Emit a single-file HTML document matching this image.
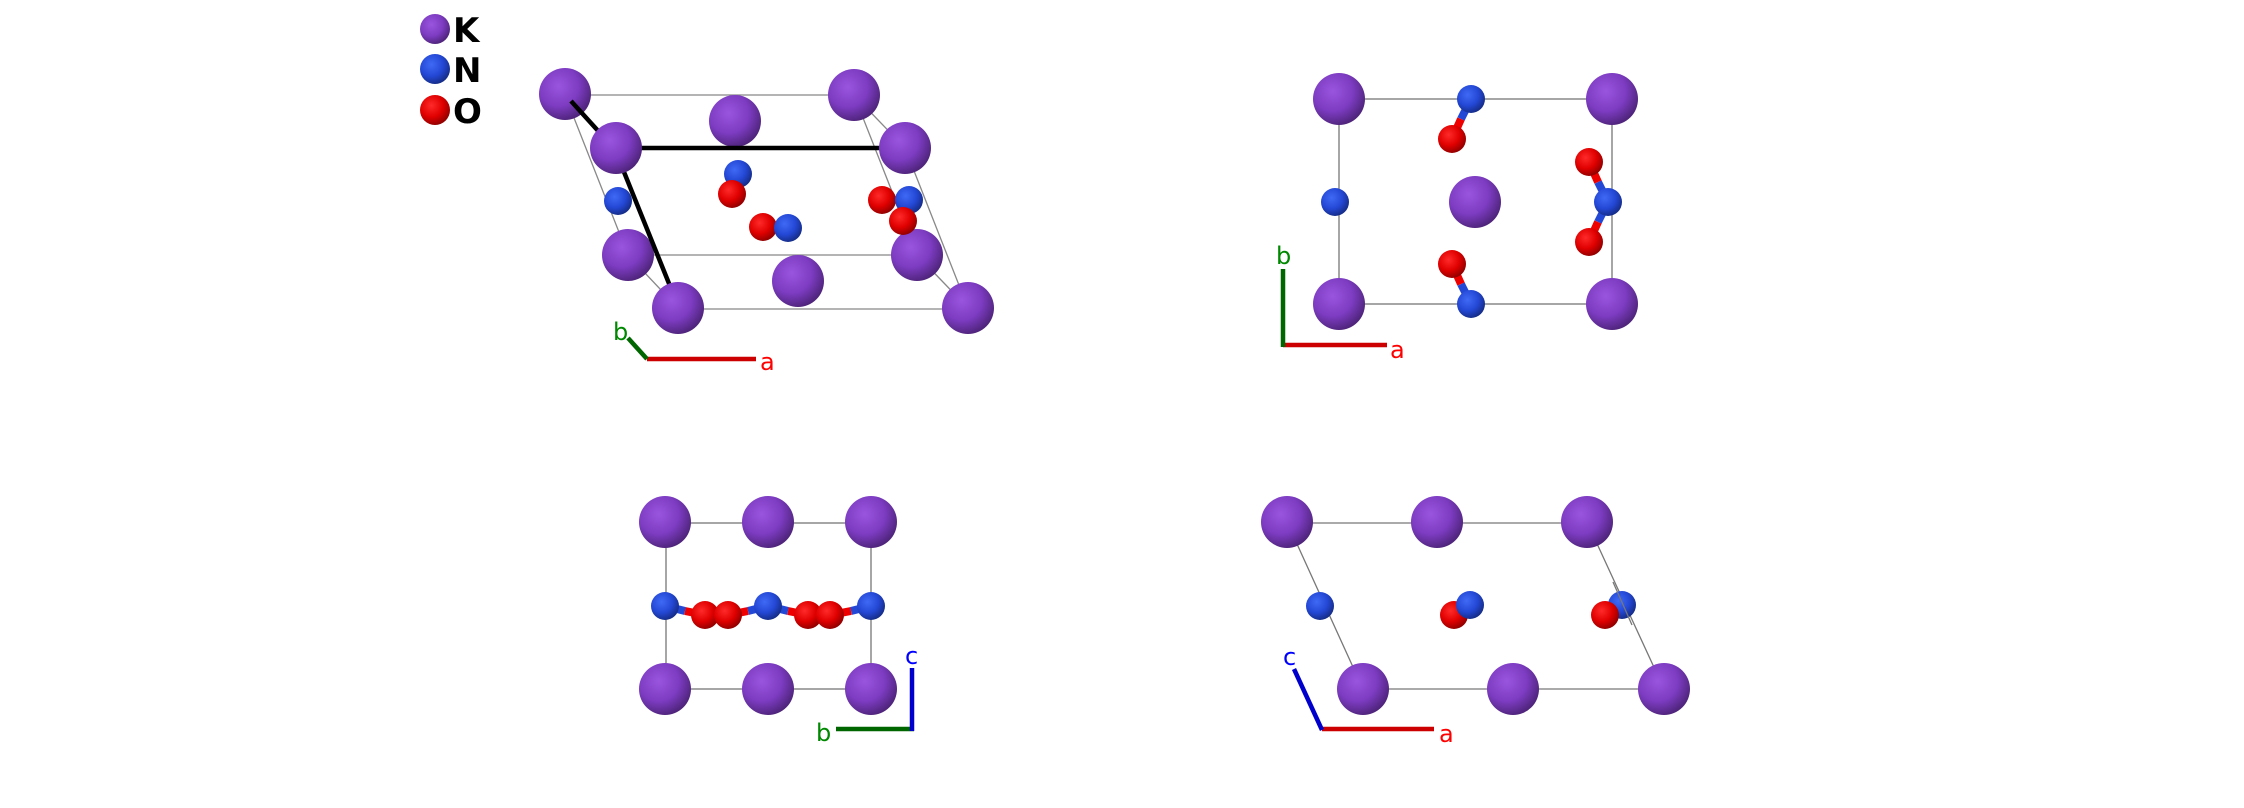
<!DOCTYPE html>
<html><head><meta charset="utf-8"><style>html,body{margin:0;padding:0;background:#fff;}svg{display:block}</style></head>
<body>
<svg width="2244" height="808" viewBox="0 0 2244 808" xmlns="http://www.w3.org/2000/svg">
<defs>
<radialGradient id="gK" cx="0.38" cy="0.35" r="0.7">
<stop offset="0" stop-color="#9a55de"/><stop offset="0.55" stop-color="#7d3cc2"/><stop offset="1" stop-color="#4b2275"/></radialGradient>
<radialGradient id="gN" cx="0.38" cy="0.35" r="0.7">
<stop offset="0" stop-color="#3f6af5"/><stop offset="0.55" stop-color="#2448d6"/><stop offset="1" stop-color="#142a80"/></radialGradient>
<radialGradient id="gO" cx="0.38" cy="0.35" r="0.7">
<stop offset="0" stop-color="#ff2a2a"/><stop offset="0.55" stop-color="#e00000"/><stop offset="1" stop-color="#8a0000"/></radialGradient>
</defs>
<g font-family="DejaVu Sans, Liberation Sans, sans-serif">
<!-- legend -->
<circle cx="435" cy="29" r="15" fill="url(#gK)"/>
<circle cx="435" cy="69" r="15" fill="url(#gN)"/>
<circle cx="435" cy="110" r="15" fill="url(#gO)"/>
<g font-weight="bold" font-size="34" fill="#000">
<text x="453" y="42">K</text><text x="453" y="82">N</text><text x="453" y="123">O</text></g>

<!-- panel 1 -->
<g stroke="#888" stroke-width="1.3" fill="none">
<line x1="565" y1="95" x2="854" y2="95"/>
<line x1="628" y1="255" x2="917" y2="255"/>
<line x1="678" y1="309" x2="968" y2="309"/>
<line x1="565" y1="95" x2="628" y2="255"/>
<line x1="628" y1="255" x2="678" y2="308"/>
<line x1="854" y1="95" x2="917" y2="255"/>
<line x1="854" y1="95" x2="905" y2="148"/>
<line x1="905" y1="148" x2="968" y2="308"/>
<line x1="917" y1="255" x2="968" y2="308"/>
</g>
<circle cx="565" cy="94" r="26" fill="url(#gK)"/>
<circle cx="854" cy="95" r="26" fill="url(#gK)"/>
<circle cx="735" cy="121" r="26" fill="url(#gK)"/>
<circle cx="628" cy="255" r="26" fill="url(#gK)"/>
<circle cx="917" cy="255" r="26" fill="url(#gK)"/>
<circle cx="618" cy="201" r="14" fill="url(#gN)"/>
<circle cx="738" cy="174" r="14" fill="url(#gN)"/>
<circle cx="732" cy="194" r="14" fill="url(#gO)"/>
<line x1="763" y1="227" x2="788" y2="228" stroke="#2448d6" stroke-width="8"/>
<circle cx="763" cy="227" r="14" fill="url(#gO)"/>
<circle cx="788" cy="228" r="14" fill="url(#gN)"/>
<circle cx="882" cy="200" r="14" fill="url(#gO)"/>
<circle cx="909" cy="200" r="14" fill="url(#gN)"/>
<circle cx="903" cy="221" r="14" fill="url(#gO)"/>
<g stroke="#000" stroke-width="4.5" stroke-linecap="butt">
<line x1="571" y1="101" x2="600" y2="133"/>
<line x1="641" y1="148" x2="881" y2="148"/>
<line x1="624" y1="172" x2="670" y2="286"/>
</g>
<circle cx="616" cy="148" r="26" fill="url(#gK)"/>
<circle cx="905" cy="148" r="26" fill="url(#gK)"/>
<circle cx="798" cy="281" r="26" fill="url(#gK)"/>
<circle cx="678" cy="308" r="26" fill="url(#gK)"/>
<circle cx="968" cy="308" r="26" fill="url(#gK)"/>
<line x1="647" y1="359" x2="756" y2="359" stroke="#c00" stroke-width="4.5"/>
<line x1="647" y1="359" x2="628" y2="338" stroke="#060" stroke-width="4.5"/>
<text x="613" y="340" font-size="24" fill="#080">b</text>
<text x="760" y="370" font-size="24" fill="#f00">a</text>

<!-- panel 2 -->
<rect x="1339" y="99" width="273" height="205" fill="none" stroke="#777" stroke-width="1.3"/>
<circle cx="1339" cy="99" r="26" fill="url(#gK)"/>
<circle cx="1612" cy="99" r="26" fill="url(#gK)"/>
<circle cx="1339" cy="304" r="26" fill="url(#gK)"/>
<circle cx="1612" cy="304" r="26" fill="url(#gK)"/>
<circle cx="1475" cy="202" r="26" fill="url(#gK)"/>
<g stroke-width="8">
<line x1="1471" y1="99" x2="1461" y2="119" stroke="#2448d6"/><line x1="1461" y1="119" x2="1452" y2="139" stroke="#e00"/>
<line x1="1471" y1="304" x2="1461" y2="284" stroke="#2448d6"/><line x1="1461" y1="284" x2="1452" y2="264" stroke="#e00"/>
<line x1="1608" y1="202" x2="1598" y2="182" stroke="#2448d6"/><line x1="1598" y1="182" x2="1589" y2="162" stroke="#e00"/>
<line x1="1608" y1="202" x2="1598" y2="222" stroke="#2448d6"/><line x1="1598" y1="222" x2="1589" y2="242" stroke="#e00"/>
</g>
<circle cx="1471" cy="99" r="14" fill="url(#gN)"/>
<circle cx="1452" cy="139" r="14" fill="url(#gO)"/>
<circle cx="1335" cy="202" r="14" fill="url(#gN)"/>
<circle cx="1589" cy="162" r="14" fill="url(#gO)"/>
<circle cx="1608" cy="202" r="14" fill="url(#gN)"/>
<circle cx="1589" cy="242" r="14" fill="url(#gO)"/>
<circle cx="1452" cy="264" r="14" fill="url(#gO)"/>
<circle cx="1471" cy="304" r="14" fill="url(#gN)"/>
<line x1="1283" y1="345" x2="1387" y2="345" stroke="#c00" stroke-width="4.5"/>
<line x1="1283" y1="347" x2="1283" y2="269" stroke="#060" stroke-width="4.5"/>
<text x="1276" y="264" font-size="24" fill="#080">b</text>
<text x="1390" y="358" font-size="24" fill="#f00">a</text>

<!-- panel 3 -->
<rect x="666" y="523" width="205" height="166" fill="none" stroke="#777" stroke-width="1.3"/>
<circle cx="665" cy="522" r="26" fill="url(#gK)"/>
<circle cx="768" cy="522" r="26" fill="url(#gK)"/>
<circle cx="871" cy="522" r="26" fill="url(#gK)"/>
<circle cx="665" cy="689" r="26" fill="url(#gK)"/>
<circle cx="768" cy="689" r="26" fill="url(#gK)"/>
<circle cx="871" cy="689" r="26" fill="url(#gK)"/>
<g stroke-width="8">
<line x1="665" y1="606" x2="685" y2="611" stroke="#2448d6"/><line x1="685" y1="611" x2="705" y2="615" stroke="#e00"/>
<line x1="768" y1="606" x2="748" y2="611" stroke="#2448d6"/><line x1="748" y1="611" x2="728" y2="615" stroke="#e00"/>
<line x1="768" y1="606" x2="788" y2="611" stroke="#2448d6"/><line x1="788" y1="611" x2="808" y2="615" stroke="#e00"/>
<line x1="871" y1="606" x2="851" y2="611" stroke="#2448d6"/><line x1="851" y1="611" x2="830" y2="615" stroke="#e00"/>
</g>
<circle cx="665" cy="606" r="14" fill="url(#gN)"/>
<circle cx="768" cy="606" r="14" fill="url(#gN)"/>
<circle cx="871" cy="606" r="14" fill="url(#gN)"/>
<circle cx="705" cy="615" r="14" fill="url(#gO)"/>
<circle cx="728" cy="615" r="14" fill="url(#gO)"/>
<circle cx="808" cy="615" r="14" fill="url(#gO)"/>
<circle cx="830" cy="615" r="14" fill="url(#gO)"/>
<line x1="836" y1="729" x2="914" y2="729" stroke="#060" stroke-width="4.5"/>
<line x1="912" y1="731" x2="912" y2="668" stroke="#00c" stroke-width="4.5"/>
<text x="905" y="664" font-size="24" fill="#00f">c</text>
<text x="816" y="741" font-size="24" fill="#080">b</text>

<!-- panel 4 -->
<g stroke="#777" stroke-width="1.3">
<line x1="1287" y1="523" x2="1587" y2="523"/>
<line x1="1363" y1="689" x2="1664" y2="689"/>
<line x1="1287" y1="522" x2="1363" y2="689"/>
<line x1="1587" y1="522" x2="1664" y2="689"/>
</g>
<circle cx="1287" cy="522" r="26" fill="url(#gK)"/>
<circle cx="1437" cy="522" r="26" fill="url(#gK)"/>
<circle cx="1587" cy="522" r="26" fill="url(#gK)"/>
<circle cx="1320" cy="606" r="14" fill="url(#gN)"/>
<circle cx="1454" cy="615" r="14" fill="url(#gO)"/>
<circle cx="1470" cy="605" r="14" fill="url(#gN)"/>
<circle cx="1622" cy="605" r="14" fill="url(#gN)"/>
<circle cx="1605" cy="615" r="14" fill="url(#gO)"/>
<line x1="1613" y1="582" x2="1632" y2="625" stroke="#777" stroke-width="1.3"/>
<circle cx="1363" cy="689" r="26" fill="url(#gK)"/>
<circle cx="1513" cy="689" r="26" fill="url(#gK)"/>
<circle cx="1664" cy="689" r="26" fill="url(#gK)"/>
<line x1="1322" y1="729" x2="1434" y2="729" stroke="#c00" stroke-width="4.5"/>
<line x1="1322" y1="730" x2="1294" y2="669" stroke="#00c" stroke-width="4.5"/>
<text x="1283" y="665" font-size="24" fill="#00f">c</text>
<text x="1439" y="742" font-size="24" fill="#f00">a</text>
</g>
</svg>
</body></html>
